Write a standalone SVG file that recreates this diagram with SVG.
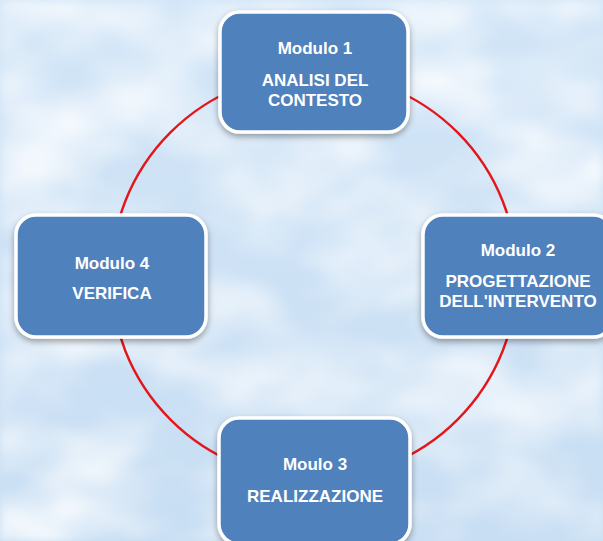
<svg xmlns="http://www.w3.org/2000/svg" width="603" height="541" viewBox="0 0 603 541">
<defs>
<linearGradient id="sky" x1="0" y1="0" x2="0" y2="1">
<stop offset="0" stop-color="#d2e5f7"/>
<stop offset="1" stop-color="#c8def3"/>
</linearGradient>
<filter id="clouds" x="0" y="0" width="100%" height="100%">
<feTurbulence type="fractalNoise" baseFrequency="0.008 0.014" numOctaves="3" seed="7" result="n"/>
<feColorMatrix in="n" type="matrix" values="0 0 0 0 1  0 0 0 0 1  0 0 0 0 1  1.8 0 0 0 -0.62" result="c"/>
<feGaussianBlur in="c" stdDeviation="4"/>
</filter>
<filter id="shadow" x="-20%" y="-20%" width="140%" height="150%">
<feDropShadow dx="0" dy="3" stdDeviation="3" flood-color="#000" flood-opacity="0.35"/>
</filter>
<style>
.box{fill:#4f81bd;stroke:#fff;stroke-width:3.5;filter:url(#shadow)}
.t{font-family:"Liberation Sans",Arial,sans-serif;font-weight:bold;font-size:17px;fill:#fff;text-anchor:middle}
.link{fill:none;stroke:#e3161b;stroke-width:2.4}
</style>
</defs>
<rect width="603" height="541" fill="url(#sky)"/>
<rect width="603" height="541" filter="url(#clouds)"/>
<g id="connectors">
<circle class="link" cx="314" cy="276" r="203"/>
</g>
<g id="node1">
<rect class="box" x="220" y="12" width="188" height="120" rx="20"/>
<text class="t" x="315" y="54">Modulo 1</text>
<text class="t" x="315" y="86">ANALISI DEL</text>
<text class="t" x="315" y="106">CONTESTO</text>
</g>
<g id="node2">
<rect class="box" x="423" y="215" width="190" height="122" rx="20"/>
<text class="t" x="518" y="256">Modulo 2</text>
<text class="t" x="518" y="287">PROGETTAZIONE</text>
<text class="t" x="518" y="307">DELL'INTERVENTO</text>
</g>
<g id="node4">
<rect class="box" x="16" y="215" width="190" height="122" rx="20"/>
<text class="t" x="112" y="269">Modulo 4</text>
<text class="t" x="112" y="299">VERIFICA</text>
</g>
<g id="node3">
<rect class="box" x="219" y="418" width="191" height="126" rx="20"/>
<text class="t" x="315" y="470">Moulo 3</text>
<text class="t" x="315" y="502">REALIZZAZIONE</text>
</g>
</svg>
